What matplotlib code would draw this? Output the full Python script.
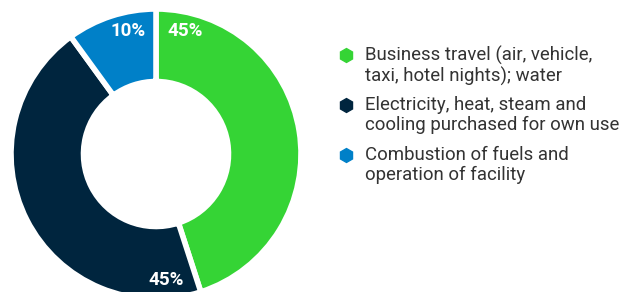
import numpy as np
import matplotlib
matplotlib.use("Agg")
import matplotlib.pyplot as plt

plt.rcParams['font.family'] = ['Roboto', 'DejaVu Sans']

# data
shares = [45, 45, 10]
pct_labels = ['45%', '45%', '10%']
categories = ['Business travel (air, vehicle,\ntaxi, hotel nights); water',
              'Electricity, heat, steam and\ncooling purchased for own use',
              'Combustion of fuels and\noperation of facility']
colors = ['#35D435', '#00253E', '#0080C8']

W, H = 623, 292
fig = plt.figure(figsize=(W/100., H/100.), dpi=100)

# donut
cx, cy, r = 156, 154, 145
ax = fig.add_axes([(cx-r)/W, (H-cy-r)/H, 2*r/W, 2*r/H])
wedges, _ = ax.pie(shares, colors=colors, startangle=90, counterclock=False,
                   radius=1.0,
                   wedgeprops=dict(width=0.5, edgecolor='white', linewidth=4))
ax.set_xlim(-1, 1)
ax.set_ylim(-1, 1)
ax.set_aspect('equal')
ax.axis('off')

# percentage labels near the outer edge of each wedge
for i, w in enumerate(wedges):
    if i < 2:
        ang = w.theta2 - 13.5
    else:
        ang = w.theta1 + 13
    rr = 0.87
    ax.text(rr*np.cos(np.radians(ang)), rr*np.sin(np.radians(ang)), pct_labels[i],
            color='white', fontsize=13.5, fontweight='bold',
            ha='center', va='center')

# legend drawn by hand (marker next to first line)
lx_mark, lx_text = 346/W, 365/W
tops = [46, 96, 146]
for i, lab in enumerate(categories):
    ytop = 1 - tops[i]/H
    fig.text(lx_text, ytop, lab, fontsize=13.4, color='#333333',
             ha='left', va='top', linespacing=1.1)
    fig.lines.append(plt.Line2D([lx_mark], [1 - (tops[i]+9)/H], marker='h',
                                markersize=10, color=colors[i], linestyle='none',
                                transform=fig.transFigure, figure=fig))

plt.savefig("out.png", dpi=100)
